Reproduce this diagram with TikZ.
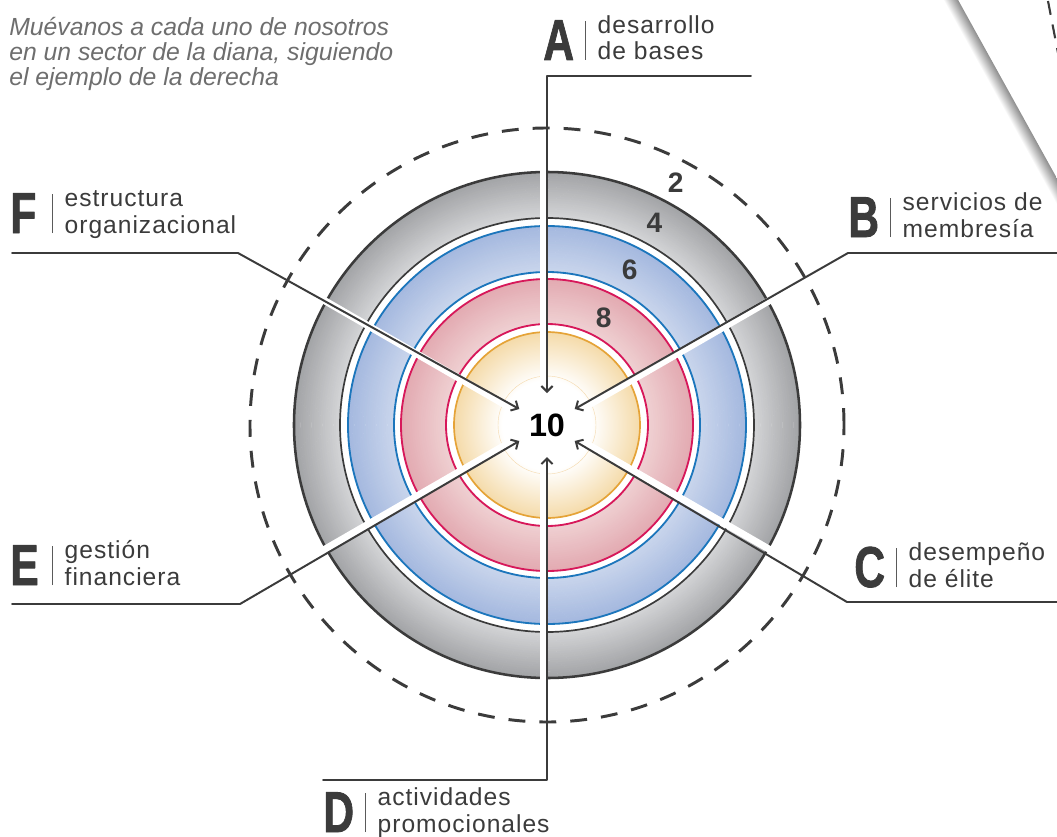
\documentclass[tikz,border=0pt]{standalone}
\usepackage{fontspec}
\setmainfont{Liberation Sans}
\newfontfamily\letterfont[FakeBold=1.5]{Liberation Sans Bold}
\newfontfamily\labelfont[LetterSpace=4]{Liberation Sans}
\usepackage{xcolor}
\usepackage{graphicx}
\usetikzlibrary{arrows.meta}

\definecolor{ink}{HTML}{3B3B3B}
\definecolor{barcol}{HTML}{5A5A5A}
\definecolor{introcol}{HTML}{6E6E6E}
\definecolor{grayin}{HTML}{D3D4D6}
\definecolor{grayout}{HTML}{A3A4A7}
\definecolor{bluein}{HTML}{C9D5EC}
\definecolor{blueout}{HTML}{A5B9DF}
\definecolor{blueline}{HTML}{1C76BC}
\definecolor{pinkin}{HTML}{EFD0D2}
\definecolor{pinkout}{HTML}{E3ABB2}
\definecolor{pinkline}{HTML}{D7185A}
\definecolor{yelin}{HTML}{F3D59C}
\definecolor{yelout}{HTML}{F0CF92}
\definecolor{yelline}{HTML}{E5A337}

\pgfdeclareradialshading{glow}{\pgfpoint{0bp}{0bp}}{color(0bp)=(white); color(12bp)=(white); color(27bp)=(yelin); color(50bp)=(yelout); color(60bp)=(yelout)}

\newcommand{\ringfill}[4]{%
  \foreach \k [evaluate=\k as \p using int(\k*5),
               evaluate=\k as \r using #1+(#2-#1)*\k/20] in {0,...,20}
    \draw [#4!\p!#3,line width=1.9pt] (0,0) circle (\r);}

\newcommand{\sectorlabel}[3]{%
  \makebox[29.5pt][l]{\scalebox{0.74}[1]{\fontsize{41}{41}\letterfont #1}}%
  {\color{barcol}\rule{0.7pt}{27.5pt}}\hspace{8.5pt}%
  {\fontsize{17.5}{18.5}\labelfont\begin{tabular}[b]{@{}l@{}}#2\\#3\end{tabular}}}

\begin{document}
\begin{tikzpicture}[x=0.025cm,y=0.025cm,line cap=round,line join=round,
  leader/.style={ink,line width=1.4pt,-{Straight Barb[length=4pt,width=8pt]}},
  gap/.style={white,line width=5pt,line cap=butt},
  ringnum/.style={ink,font=\fontsize{20}{20}\selectfont\bfseries},
  sector/.style={ink,inner sep=0pt,anchor=base west}]
\useasboundingbox (-547,-411) rectangle (510,425);

\ringfill{208}{252}{grayin}{grayout}
\ringfill{154}{198}{bluein}{blueout}
\ringfill{102}{145}{pinkin}{pinkout}
\shade [shading=glow] (0,0) circle (93);
\draw [ink,line width=1.8pt] (0,0) circle (253);
\draw [ink,line width=1.2pt] (0,0) circle (207);
\draw [blueline,line width=1.3pt] (0,0) circle (199);
\draw [blueline,line width=1.3pt] (0,0) circle (153);
\draw [pinkline,line width=1.3pt] (0,0) circle (146);
\draw [pinkline,line width=1.3pt] (0,0) circle (101);
\draw [yelline,line width=1.2pt] (0,0) circle (93);
\draw [yelline!40,line width=0.3pt] (0,0) circle (49);

\foreach \a/\s in {90/1,30/-1,-30/1,-90/-1,-150/-1,150/1}
  \draw [gap,rotate=\a] (0,{\s*3.5}) -- (258,{\s*3.5});

\draw [ink,line width=2.1pt,line cap=butt,dash pattern=on 12pt off 10pt] (0,0) circle (297);

\foreach \n/\r in {2/274,4/229,6/176,8/121}
  \node [ringnum] (n\n) at (62:\r) {\n};
\node [font=\fontsize{23}{23}\selectfont\bfseries] (ten) at (0,0) {10};

\coordinate (tA) at (90:32);
\coordinate (tB) at (30:32);
\coordinate (tC) at (-30:32);
\coordinate (tD) at (-90:32);
\coordinate (tE) at (-150:32);
\coordinate (tF) at (150:32);
\coordinate (cA) at (0,349);
\coordinate (eA) at (204,349);
\coordinate (cB) at (301,172);
\coordinate (eB) at (512,172);
\coordinate (cC) at (300,-177);
\coordinate (eC) at (512,-177);
\coordinate (cD) at (0,-355);
\coordinate (eD) at (-224,-355);
\coordinate (cE) at (-307,-179);
\coordinate (eE) at (-535,-179);
\coordinate (cF) at (-309,172);
\coordinate (eF) at (-535,172);
\draw [leader] (eA) -- (cA) -- (tA);
\draw [leader] (eB) -- (cB) -- (tB);
\draw [leader] (eC) -- (cC) -- (tC);
\draw [leader] (eD) -- (cD) -- (tD);
\draw [leader] (eE) -- (cE) -- (tE);
\draw [leader] (eF) -- (cF) -- (tF);

\node [sector] (labA) at (-4,365) {\sectorlabel{A}{desarrollo}{de bases}};
\node [sector] (labB) at (301,188) {\sectorlabel{B}{servicios de}{membresía}};
\node [sector] (labC) at (307,-162) {\sectorlabel{C}{desempeño}{de élite}};
\node [sector] (labD) at (-224,-407) {\sectorlabel{D}{actividades}{promocionales}};
\node [sector] (labE) at (-537,-160) {\sectorlabel{E}{gestión}{financiera}};
\node [sector] (labF) at (-537,192) {\sectorlabel{F}{estructura}{organizacional}};

\node [introcol,inner sep=0pt,anchor=north west,align=left,
  font=\fontsize{17.6}{17.8}\selectfont\itshape] (intro) at (-538,408)
  {Muévanos a cada uno de nosotros\\en un sector de la diana, siguiendo\\el ejemplo de la derecha};

\begin{scope}[transform canvas={shift={(410,427)},rotate=-61}]
\shade [top color=black!45,bottom color=white] (-10,-13) rectangle (330,0);
\end{scope}
\draw [ink,line width=1.5pt,line cap=butt,dash pattern=on 10pt off 7pt] (501,424) -- (511,372);
\end{tikzpicture}
\end{document}
